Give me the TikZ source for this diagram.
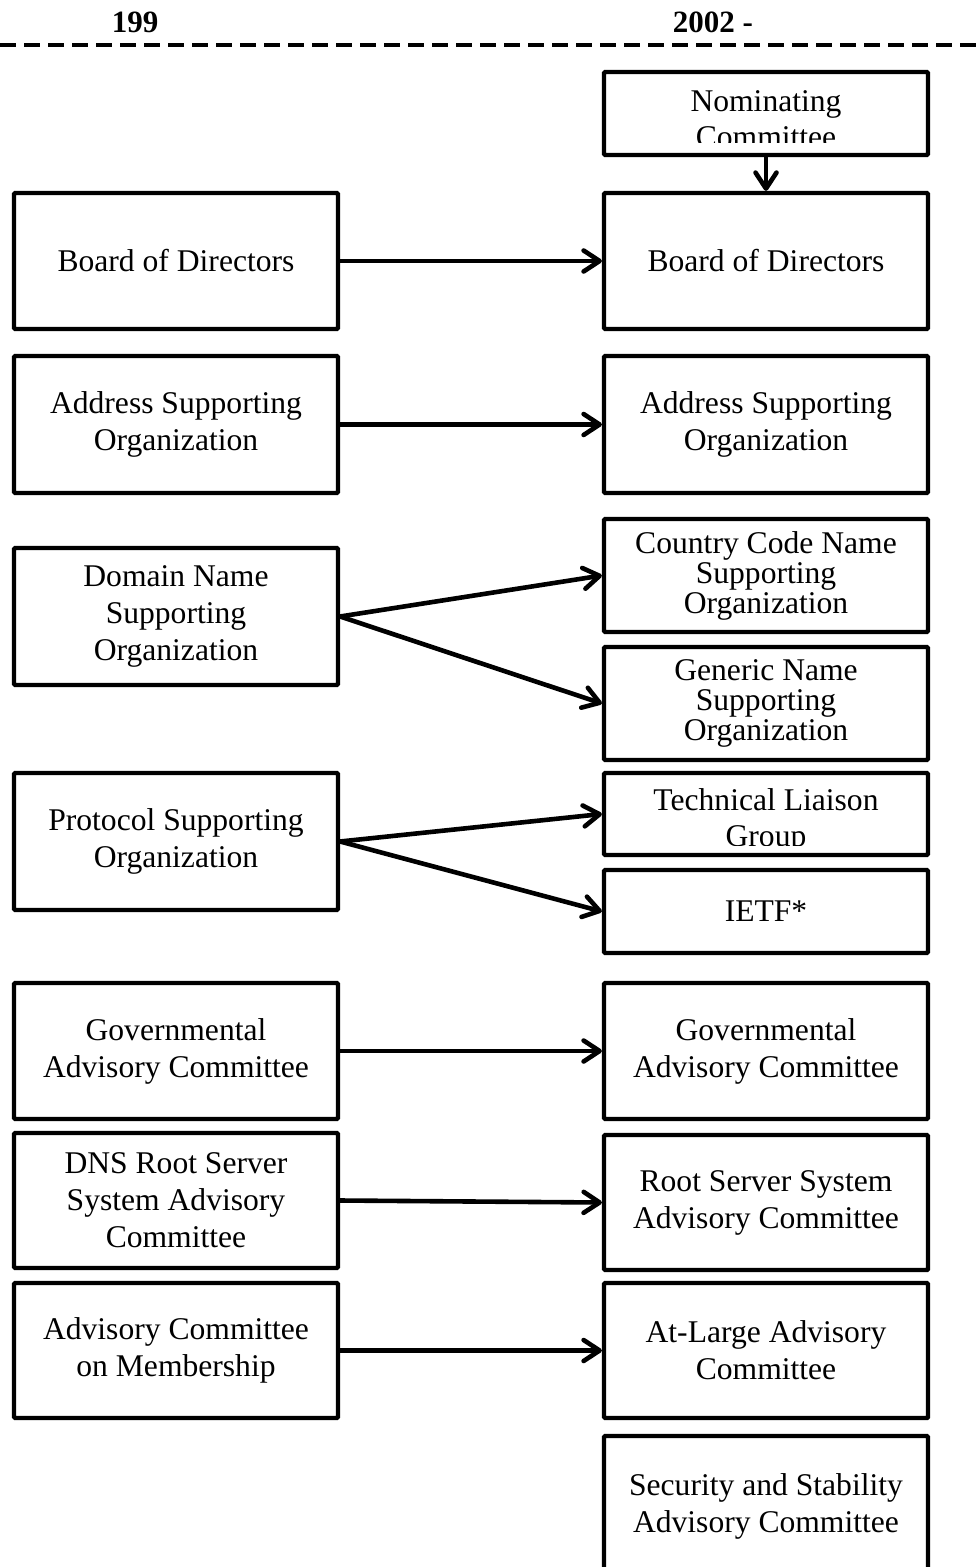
\documentclass[tikz,border=0pt]{standalone}
\usepackage{fontspec}
\setmainfont{Liberation Serif}
\usetikzlibrary{arrows.meta}
\begin{document}
\begin{tikzpicture}[x=0.5pt,y=-0.5pt,
  box/.style={draw, line width=2.1pt, rounded corners=0.5pt, inner sep=0pt, minimum width=162pt, align=center, font=\fontsize{15.8}{18.5}\selectfont},
  tight/.style={font=\fontsize{15.8}{15}\selectfont},
  lbl/.style={inner sep=0pt, align=center, font=\fontsize{15.8}{18}\selectfont},
  hdr/.style={inner sep=0pt, font=\fontsize{15.5}{18}\selectfont\bfseries},
  arr/.style={line width=2.3pt, line cap=round, -{Straight Barb[length=8pt,width=10.5pt,round]}}]
\clip (0,0) rectangle (977,1567);
\useasboundingbox (0,0) rectangle (977,1567);
% header
\node[hdr] (h1) at (135,22) {199};
\node[hdr] (h2) at (713,22) {2002 -};
\coordinate (dl) at (0,45);
\coordinate (dr) at (977,45);
\draw[line width=2pt, dash pattern=on 8pt off 4pt] (dl) -- (dr);
% right column
\node[box, minimum height=41.5pt] (nom) at (766,113.5) {};
\begin{scope}
  \clip (604,74) rectangle (928,143);
  \node[lbl] (nomt) at (766,119) {Nominating\\Committee};
\end{scope}
\node[box, minimum height=68pt] (bodR) at (766,261) {Board of Directors};
\node[box, minimum height=68.5pt] (asoR) at (766,424.5) {Address Supporting\\Organization};
\node[box, tight, minimum height=56.5pt] (cc) at (766,575.5) {Country Code Name\\Supporting\\Organization};
\node[box, tight, minimum height=56.5pt] (gn) at (766,703.5) {Generic Name\\Supporting\\Organization};
\node[box, minimum height=41pt] (tlg) at (766,814) {};
\begin{scope}
  \clip (604,775) rectangle (928,845);
  \node[lbl] (tlgt) at (766,820.5) {Technical Liaison\\Group};
\end{scope}
\node[box, minimum height=41.5pt] (ietf) at (766,911.5) {IETF*};
\node[box, minimum height=68pt] (gacR) at (766,1051) {Governmental\\Advisory Committee};
\node[box, minimum height=67.5pt] (rssac) at (766,1202.5) {Root Server System\\Advisory Committee};
\node[box, minimum height=67.5pt] (alac) at (766,1350.5) {At-Large Advisory\\Committee};
\node[box, minimum height=70pt] (ssac) at (766,1506) {Security and Stability\\Advisory Committee};
% left column
\node[box, minimum height=68pt] (bodL) at (176,261) {Board of Directors};
\node[box, minimum height=68.5pt] (asoL) at (176,424.5) {Address Supporting\\Organization};
\node[box, minimum height=68.5pt] (dnso) at (176,616.5) {Domain Name\\Supporting\\Organization};
\node[box, minimum height=68.5pt] (pso) at (176,841.5) {Protocol Supporting\\Organization};
\node[box, minimum height=68pt] (gacL) at (176,1051) {Governmental\\Advisory Committee};
\node[box, minimum height=67.5pt] (dns) at (176,1200.5) {DNS Root Server\\System Advisory\\Committee};
\node[box, minimum height=67.5pt] (acm) at (176,1350.5) {Advisory Committee\\on Membership};
% arrows
\draw[arr] (nom.south) -- (bodR.north);
\draw[arr] (bodL.east) -- (bodR.west);
\draw[arr] (asoL.east) -- (asoR.west);
\draw[arr] (dnso.east) -- (cc.west);
\draw[arr] (dnso.east) -- (gn.west);
\draw[arr] (pso.east) -- (tlg.west);
\draw[arr] (pso.east) -- (ietf.west);
\draw[arr] (gacL.east) -- (gacR.west);
\draw[arr] (dns.east) -- (rssac.west);
\draw[arr] (acm.east) -- (alac.west);
\end{tikzpicture}
\end{document}
